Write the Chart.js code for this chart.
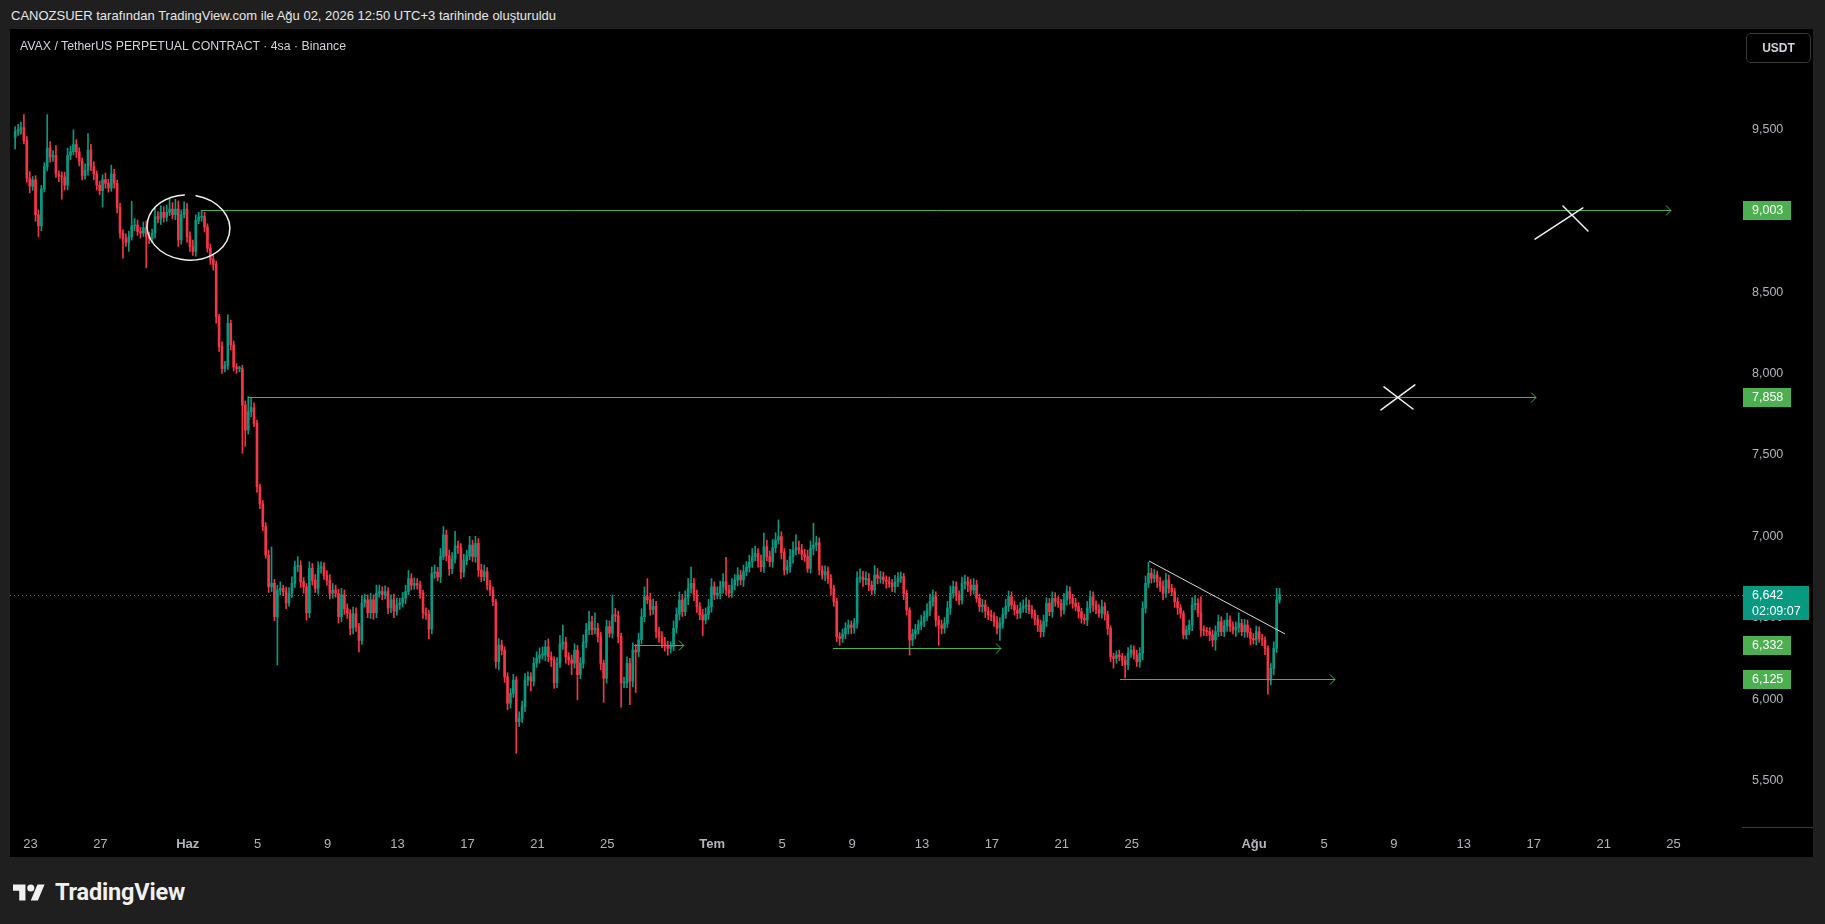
<!DOCTYPE html>
<html lang="tr">
<head>
<meta charset="utf-8">
<title>AVAX / TetherUS PERPETUAL CONTRACT · 4sa · Binance</title>
<script src="https://cdn.jsdelivr.net/npm/chart.js@4.4.1/dist/chart.umd.min.js"></script>
<style>
    html, body { margin: 0; padding: 0; }
    body {
        width: 1825px; height: 924px; overflow: hidden; position: relative;
        background: #1f1f1f; font-family: "Liberation Sans", Arial, sans-serif;
    }
    #header { position: absolute; left: 11px; top: 8px; font-size: 13px; color: #e6e6e6; white-space: nowrap; }
    #panel { position: absolute; left: 10px; top: 29px; width: 1803px; height: 828px; background: #000; }
    #chart { position: absolute; left: 0; top: 1px; }
    #legend { position: absolute; left: 10px; top: 10px; font-size: 12.3px; color: #d1d4dc; white-space: nowrap; }
    #unit {
        position: absolute; left: 1736px; top: 4px; width: 63px; height: 28px;
        border: 1px solid #3b3b3b; border-radius: 5px; color: #d1d4dc;
        font-size: 12px; font-weight: bold; line-height: 28px; text-align: center;
    }
    #logo { position: absolute; left: 13px; top: 879px; height: 26px; display: flex; align-items: center; }
    #logo svg { width: 32px; height: 17px; margin-right: 10px; }
    #logo span { font-family: Roboto, sans-serif; font-weight: bold; font-size: 23.5px; color: #f0f0f0; letter-spacing: -0.2px; }
</style>
</head>
<body>
<div id="header">CANOZSUER tarafından TradingView.com ile Ağu 02, 2026 12:50 UTC+3 tarihinde oluşturuldu</div>
<div id="panel">
    <canvas id="chart" width="1803" height="827"></canvas>
    <div id="legend">AVAX / TetherUS PERPETUAL CONTRACT · 4sa · Binance</div>
    <div id="unit">USDT</div>
</div>
<div id="logo">
    <svg viewBox="0 4 36 18"><path fill="#f0f0f0" d="M14 22H7V11H0V4h14v18zM28 22h-8l7.5-18h8L28 22z"/><circle fill="#f0f0f0" cx="20" cy="8" r="4"/></svg>
    <span>TradingView</span>
</div>
<script>
// 4sa mumlar, 22 May 03:00'ten 2 Ağu 11:00'e (gün = 22 May 00:00'dan itibaren)
const firstCandleDay = 0.125;
const candleStep = 1 / 6;
const firstOpen = 9450;

const closes = [
    9487,9500,9510,9430,9200,9150,  9190,8975,8907,9135,9270,9385,
    9328,9340,9225,9214,9207,9157,  9340,9362,9407,9362,9305,9214,
    9248,9373,9271,9225,9157,9123,  9191,9168,9139,9225,9168,9021,
    8862,8828,8805,8839,8907,8912,  8873,8862,8896,8839,8828,8862,
    8964,8950,8990,8960,8990,9010,  8975,9010,8820,8975,9010,8840,
    8780,8750,8940,8960,8965,8900,  8770,8700,8670,8349,8165,8030,
    8050,8308,8175,8040,8030,8030,  7806,7653,7765,7790,7694,7305,
    7200,7059,6885,6690,6711,6506,  6670,6680,6660,6590,6650,6711,
    6813,6820,6721,6690,6530,6803,  6730,6680,6803,6813,6760,6730,
    6650,6670,6650,6506,6640,6555,  6525,6435,6525,6445,6360,6590,
    6610,6530,6610,6530,6650,6660,  6640,6660,6560,6610,6540,6580,
    6590,6620,6660,6740,6700,6710,  6700,6650,6530,6520,6430,6772,
    6780,6750,6875,7008,6880,6800,  6860,6940,6930,6780,6850,6880,
    6946,6875,6956,6793,6752,6783,  6700,6670,6598,6230,6332,6301,
    6137,5974,6035,6117,5861,5882,  5953,6117,6137,6110,6220,6250,
    6270,6270,6320,6260,6240,6100,  6220,6340,6350,6260,6240,6220,
    6300,6150,6220,6350,6425,6475,  6425,6435,6385,6220,6128,6445,
    6405,6517,6510,6385,6100,6100,  6220,6110,6300,6290,6365,6505,
    6630,6610,6550,6570,6415,6385,  6345,6330,6312,6322,6435,6520,
    6608,6537,6620,6680,6711,6640,  6568,6517,6486,6520,6568,6690,
    6640,6650,6690,6721,6670,6650,  6700,6730,6762,6732,6783,6810,
    6844,6875,6895,6850,6813,6936,  6875,6844,6930,6977,6998,6900,
    6793,6813,6875,6916,6930,6916,  6890,6875,6803,6926,6946,6960,
    6793,6762,6783,6740,6680,6600,  6383,6373,6400,6435,6455,6440,
    6465,6742,6750,6732,6742,6700,  6670,6762,6742,6750,6732,6720,
    6711,6690,6720,6742,6752,6650,  6547,6363,6400,6425,6455,6475,
    6506,6547,6600,6629,6486,6455,  6435,6465,6560,6650,6690,6640,
    6608,6711,6721,6700,6670,6700,  6620,6568,6578,6540,6517,6507,
    6476,6435,6465,6520,6568,6629,  6578,6547,6527,6558,6570,6578,
    6550,6527,6490,6455,6414,6476,  6588,6537,6619,6600,6588,6547,
    6609,6660,6619,6588,6568,6537,  6496,6486,6560,6629,6578,6550,
    6527,6568,6520,6435,6261,6250,  6271,6260,6240,6210,6281,6302,
    6270,6230,6281,6558,6711,6773,  6742,6762,6720,6691,6650,6732,
    6680,6660,6598,6560,6527,6394,  6425,6455,6578,6588,6530,6425,
    6420,6414,6394,6363,6414,6476,  6414,6450,6486,6445,6425,6440,
    6465,6414,6455,6410,6373,6363,  6414,6373,6363,6312,6117,6189,
    6312,6609,6642
];

// gövdenin üstündeki / altındaki fitil uzunlukları
const upperWicks = [
    30,30,35,80,25,40,  20,25,30,20,25,205,  40,30,60,20,25,30,  45,35,90,30,25,20,
    40,100,35,30,20,25,  30,40,25,55,30,20,  25,20,30,35,150,40,  30,25,35,40,30,25,
    50,30,40,35,45,60,  40,60,50,30,45,35,  30,40,35,30,38,25,  20,25,30,20,15,30,
    25,52,20,25,20,15,  20,25,93,57,30,20,  15,20,25,30,224,25,  30,40,20,30,35,40,
    35,55,30,25,20,40,  30,35,40,30,25,30,  35,40,30,25,40,30,  30,25,40,35,20,45,
    35,30,40,30,50,40,  30,35,25,30,35,40,  30,35,40,50,30,35,  30,25,20,30,25,40,
    45,30,50,52,30,35,  40,90,30,25,40,35,  54,30,44,30,35,40,  25,30,20,15,40,30,
    20,25,30,35,20,40,  35,40,30,25,35,40,  45,50,40,50,30,20,  35,50,105,30,25,30,
    40,30,35,45,40,65,  35,95,30,25,20,40,  35,123,40,30,20,35,  40,30,45,35,40,50,
    60,110,40,45,30,25,  30,35,25,30,45,40,  50,35,45,60,100,30,  30,25,35,40,45,50,
    30,40,35,50,150,30,  40,35,45,30,40,35,  40,50,45,30,35,84,  40,35,50,45,102,30,
    25,40,45,50,80,40,  35,30,40,45,134,40,  30,25,35,30,25,20,  20,25,30,35,30,25,
    30,40,50,35,40,30,  25,58,40,35,30,25,  30,25,40,35,28,20,  20,15,30,35,30,40,
    35,40,45,41,30,25,  30,35,40,45,35,30,  25,39,40,30,35,40,  30,25,35,30,25,30,
    25,30,35,40,45,35,  30,25,30,35,40,45,  30,25,20,25,30,40,  35,30,40,35,30,25,
    40,35,30,25,30,25,  20,25,40,35,30,25,  30,40,25,20,15,20,  25,30,20,25,35,30,
    25,30,35,40,45,67,  30,35,25,30,35,40,  30,25,20,25,20,15,  25,30,45,50,30,100,
    25,20,25,30,35,40,  30,35,40,25,30,35,  65,25,35,30,25,30,  35,30,25,20,15,30,
    40,71,38
];
const lowerWicks = [
    70,25,30,20,25,40,  25,40,67,30,20,25,  30,25,20,35,137,30,  30,25,20,35,30,25,
    20,30,25,35,30,25,  100,30,25,20,30,35,  30,120,25,55,20,30,  25,30,20,190,30,25,
    30,25,35,30,25,20,  25,30,40,25,20,35,  30,25,30,20,25,30,  25,30,35,40,30,30,
    20,25,30,25,30,20,  296,100,25,30,20,35,  30,25,20,35,30,25,  297,30,25,35,20,25,
    25,30,35,40,45,30,  30,25,35,30,25,30,  35,30,25,40,30,35,  30,40,35,30,70,25,
    25,30,35,40,30,25,  30,25,35,30,40,25,  30,25,35,20,30,25,  25,30,35,30,60,30,
    30,25,35,20,30,40,  30,25,35,40,30,25,  25,30,35,40,30,25,  30,35,25,40,50,30,
    35,40,30,25,194,30,  25,30,35,60,30,25,  30,25,35,30,40,35,  30,25,35,40,30,70,
    30,155,25,30,35,30,  30,25,35,40,148,30,  25,30,35,40,150,30,  30,145,35,250,30,25,
    30,25,35,30,40,35,  30,35,42,30,25,30,  35,30,25,40,30,35,  35,30,96,25,30,35,
    30,25,35,40,30,25,  25,30,35,30,40,25,  30,35,25,40,30,35,  25,30,35,30,25,40,
    30,25,35,40,30,25,  35,30,25,30,40,35,  30,25,35,30,40,30,  30,43,25,30,35,40,
    35,30,25,40,30,35,  30,25,35,30,25,40,  25,30,35,30,25,40,  30,93,35,30,25,30,
    30,25,35,30,40,125,  35,30,25,40,30,35,  30,25,35,40,30,25,  25,30,35,40,30,25,
    30,35,75,30,25,30,  25,30,35,30,25,40,  25,30,35,40,34,30,  30,25,35,30,25,40,
    25,30,35,30,25,40,  30,25,35,30,40,25,  25,30,35,40,30,60,  30,25,35,80,30,25,
    25,30,35,40,30,25,  30,25,35,30,40,25,  30,25,35,40,30,25,  25,30,35,30,25,40,
    30,25,35,40,63,30,  25,30,35,30,25,40,  30,25,35,30,40,25,  30,25,35,40,87,30,
    40,25,20
];

// eksenler
const xTickDays = [1, 5, 10, 14, 18, 22, 26, 30, 34, 40, 44, 48, 52, 56, 60, 64, 71, 75, 79, 83, 87, 91, 95];
const xTickLabels = ['23', '27', 'Haz', '5', '9', '13', '17', '21', '25', 'Tem', '5', '9', '13', '17', '21', '25', 'Ağu', '5', '9', '13', '17', '21', '25'];
const monthLabels = ['Haz', 'Tem', 'Ağu'];
const yTicks = [5500, 6000, 6500, 7000, 7500, 8000, 8500, 9000, 9500];

// çizimler (gün, fiyat)
const levelLines = [
    { price: 9003, from: 10.79, to: 94.85 },
    { price: 7858, from: 13.46, to: 87.13 },
    { price: 6332, from: 35.52, to: 38.38 },
    { price: 6312, from: 46.90, to: 56.52 },
    { price: 6125, from: 63.33, to: 75.63 }
];
const levelTags = [9003, 7858, 6332, 6125];
const lastPrice = 6642;
const countdown = '02:09:07';
const trendLine = [[64.99, 6848], [72.77, 6400]];
const crossStrokes = [
    [[87.07, 8826], [89.81, 9017]], [[88.67, 9029], [90.10, 8875]],
    [[78.26, 7776], [80.20, 7930]], [[78.43, 7918], [80.09, 7782]]
];
const circleMark = { day: 10.04, price: 8897, rDays: 2.37, rPrice: 200 };

const UP = '#089981';
const DOWN = '#f23645';
const LEVEL = '#4caf50';
const fmt = v => v.toLocaleString('en-US');

const times = closes.map((c, i) => firstCandleDay + i * candleStep);
const opens = closes.map((c, i) => i === 0 ? firstOpen : closes[i - 1]);
const colors = closes.map((c, i) => c >= opens[i] ? UP : DOWN);

const wickData = closes.map((c, i) => ({
    x: times[i],
    y: [Math.min(opens[i], c) - lowerWicks[i], Math.max(opens[i], c) + upperWicks[i]]
}));
const bodyData = closes.map((c, i) => ({ x: times[i], y: [opens[i], c] }));

const drawings = {
    id: 'drawings',
    beforeDatasetsDraw(chart) {
        const { ctx, chartArea: a, scales: { y } } = chart;
        const py = Math.round(y.getPixelForValue(lastPrice)) + 0.5;
        ctx.save();
        ctx.strokeStyle = UP;
        ctx.lineWidth = 1;
        ctx.setLineDash([1, 3]);
        ctx.beginPath();
        ctx.moveTo(a.left, py);
        ctx.lineTo(a.right, py);
        ctx.stroke();
        ctx.restore();
    },
    afterDatasetsDraw(chart) {
        const { ctx, chartArea: a, scales: { x, y } } = chart;
        const px = d => x.getPixelForValue(d);
        const py = p => y.getPixelForValue(p);
        ctx.save();
        ctx.beginPath();
        ctx.rect(a.left, a.top, a.width, a.height);
        ctx.clip();

        // yatay seviyeler ve oklar
        ctx.strokeStyle = LEVEL;
        ctx.lineWidth = 1;
        levelLines.forEach(l => {
            const yy = Math.round(py(l.price)) + 0.5;
            const x0 = px(l.from), x1 = px(l.to);
            ctx.beginPath();
            ctx.moveTo(x0, yy);
            ctx.lineTo(x1, yy);
            ctx.moveTo(x1 - 5, yy - 5);
            ctx.lineTo(x1, yy);
            ctx.lineTo(x1 - 5, yy + 5);
            ctx.stroke();
        });

        // trend çizgisi
        ctx.strokeStyle = '#d8d8d8';
        ctx.beginPath();
        ctx.moveTo(px(trendLine[0][0]), py(trendLine[0][1]));
        ctx.lineTo(px(trendLine[1][0]), py(trendLine[1][1]));
        ctx.stroke();

        // elle çizilmiş işaretler
        ctx.strokeStyle = '#f2f2f2';
        ctx.lineWidth = 1.5;
        ctx.lineCap = 'round';
        crossStrokes.forEach(s => {
            ctx.beginPath();
            ctx.moveTo(px(s[0][0]), py(s[0][1]));
            ctx.lineTo(px(s[1][0]), py(s[1][1]));
            ctx.stroke();
        });
        const cx = px(circleMark.day), cy = py(circleMark.price);
        const rx = px(circleMark.day + circleMark.rDays) - cx;
        const ry = cy - py(circleMark.price + circleMark.rPrice);
        ctx.beginPath();
        ctx.ellipse(cx, cy, rx, ry, 0.08, -1.45, 4.55);
        ctx.stroke();
        ctx.restore();
    },
    afterDraw(chart) {
        const { ctx, chartArea: a, scales: { y } } = chart;
        ctx.save();
        // fiyat ekseni alt çizgisi
        ctx.strokeStyle = '#363a45';
        ctx.lineWidth = 1;
        ctx.beginPath();
        ctx.moveTo(a.right - 1, a.bottom - 0.5);
        ctx.lineTo(chart.width, a.bottom - 0.5);
        ctx.stroke();

        ctx.font = '12.5px "Liberation Sans", Arial, sans-serif';
        ctx.textBaseline = 'middle';
        ctx.textAlign = 'left';
        levelTags.forEach(p => {
            const yy = Math.round(y.getPixelForValue(p));
            ctx.fillStyle = LEVEL;
            ctx.fillRect(a.right, yy - 9, 48, 19);
            ctx.fillStyle = '#ffffff';
            ctx.fillText(fmt(p), a.right + 9, yy + 1);
        });
        const ly = Math.round(y.getPixelForValue(lastPrice));
        ctx.fillStyle = UP;
        ctx.fillRect(a.right, ly - 9, 66, 34);
        ctx.fillStyle = '#ffffff';
        ctx.fillText(fmt(lastPrice), a.right + 9, ly + 1);
        ctx.fillText(countdown, a.right + 9, ly + 17);
        ctx.restore();
    }
};

const ctx = document.getElementById('chart').getContext('2d');
new Chart(ctx, {
    type: 'bar',
    data: {
        datasets: [
            {
                data: wickData,
                backgroundColor: colors,
                grouped: false,
                barThickness: 1,
                maxBarThickness: 1,
                borderWidth: 0
            },
            {
                data: bodyData,
                backgroundColor: colors,
                grouped: false,
                barThickness: 2,
                maxBarThickness: 2,
                minBarLength: 1,
                borderWidth: 0
            }
        ]
    },
    options: {
        responsive: false,
        animation: false,
        devicePixelRatio: 1,
        layout: { padding: 0 },
        plugins: { legend: { display: false }, tooltip: { enabled: false } },
        scales: {
            x: {
                type: 'linear',
                offset: false,
                min: -0.17,
                max: 98.97,
                grid: { display: false, drawTicks: false, offset: false },
                border: { display: false },
                afterBuildTicks: ax => { ax.ticks = xTickDays.map(v => ({ value: v })); },
                afterFit: ax => {
                    ax.height = 29;
                    ax.paddingLeft = 0;
                    ax.paddingRight = 0;
                },
                ticks: {
                    autoSkip: false,
                    maxRotation: 0,
                    padding: 9,
                    color: '#b2b5be',
                    font: c => ({
                        family: '"Liberation Sans", Arial, sans-serif',
                        size: 13,
                        weight: monthLabels.includes(xTickLabels[c.index]) ? 'bold' : 'normal'
                    }),
                    callback: (v, i) => xTickLabels[i]
                }
            },
            y: {
                position: 'right',
                min: 5208,
                max: 10110,
                grid: { display: false, drawTicks: false },
                border: { display: false },
                afterBuildTicks: ax => { ax.ticks = yTicks.map(v => ({ value: v })); },
                afterFit: ax => {
                    ax.width = 70;
                    ax.paddingTop = 0;
                    ax.paddingBottom = 0;
                },
                ticks: {
                    padding: 9,
                    color: '#b2b5be',
                    font: { family: '"Liberation Sans", Arial, sans-serif', size: 12.5 },
                    callback: v => fmt(v)
                }
            }
        }
    },
    plugins: [drawings]
});
</script>
</body>
</html>
